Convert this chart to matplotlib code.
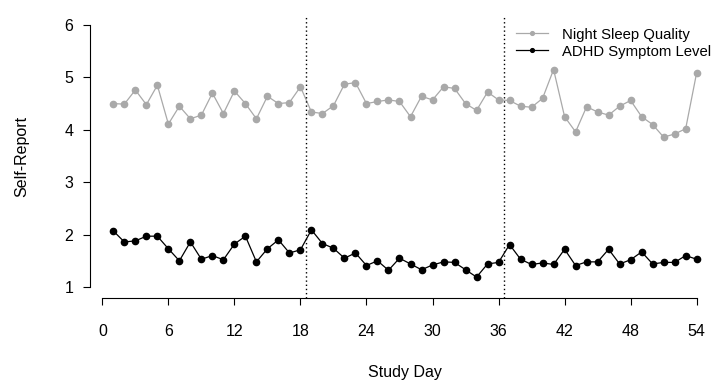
import matplotlib
matplotlib.use("Agg")
import matplotlib.pyplot as plt

plt.rcParams["font.family"] = ["Liberation Sans", "DejaVu Sans"]

days = list(range(1, 55))
sleep_quality = [4.50, 4.49, 4.76, 4.48, 4.85, 4.11, 4.45, 4.21, 4.28, 4.70,
                 4.31, 4.74, 4.50, 4.21, 4.64, 4.50, 4.52, 4.82,
                 4.34, 4.31, 4.46, 4.87, 4.90, 4.50, 4.54, 4.57, 4.54, 4.25,
                 4.64, 4.57, 4.82, 4.79, 4.50, 4.37, 4.72, 4.57, 4.56,
                 4.45, 4.43, 4.60, 5.15, 4.25, 3.96, 4.44, 4.34, 4.28,
                 4.45, 4.56, 4.25, 4.10, 3.86, 3.92, 4.02, 5.09]
adhd_symptoms = [2.07, 1.86, 1.88, 1.97, 1.97, 1.73, 1.50, 1.86, 1.53, 1.60,
                 1.52, 1.82, 1.97, 1.48, 1.73, 1.90, 1.65, 1.71,
                 2.09, 1.83, 1.74, 1.55, 1.65, 1.41, 1.50, 1.32, 1.55, 1.44,
                 1.33, 1.42, 1.48, 1.47, 1.33, 1.19, 1.44, 1.47, 1.81,
                 1.53, 1.43, 1.46, 1.43, 1.72, 1.41, 1.48, 1.48, 1.72,
                 1.44, 1.52, 1.67, 1.44, 1.47, 1.47, 1.60, 1.53]
phase_breaks = [18.5, 36.5]
x_ticks = list(range(0, 55, 6))
y_ticks = [1, 2, 3, 4, 5, 6]

fig = plt.figure(figsize=(7.21, 3.88), dpi=100)
ax = fig.add_axes([90 / 721, 1 - 297.5 / 388, 630 / 721, 283 / 388])

ax.plot(days, sleep_quality, color="#A9A9A9", lw=0.9, marker="o", ms=4.5,
        label="Night Sleep Quality")
ax.plot(days, adhd_symptoms, color="black", lw=0.9, marker="o", ms=4.5,
        label="ADHD Symptom Level")
for b in phase_breaks:
    ax.axvline(b, color="black", lw=1, ls=(0, (1, 2)))

ax.set_xlim(-1.12, 56.12)
ax.set_ylim(0.8, 6.2)
ax.set_xticks(x_ticks)
ax.set_yticks(y_ticks)
ax.spines["top"].set_visible(False)
ax.spines["right"].set_visible(False)
ax.spines["bottom"].set_bounds(0, 54)
ax.spines["left"].set_bounds(1, 6)
ax.tick_params(direction="out", length=5, width=0.8, labelsize=11.5, colors="black")
ax.tick_params(axis="x", pad=14)
ax.tick_params(axis="y", pad=7)

ax.set_xlabel("Study Day", fontsize=11.5, labelpad=19)
ax.set_ylabel("Self-Report", fontsize=11.5, labelpad=25)

leg = ax.legend(loc="upper right", frameon=False, fontsize=10.75, markerscale=0.6,
                handlelength=2.2, handletextpad=0.9, labelspacing=0.2,
                bbox_to_anchor=(1.0, 0.985), borderaxespad=0.2)

fig.savefig("out.png", dpi=100, facecolor="white")
